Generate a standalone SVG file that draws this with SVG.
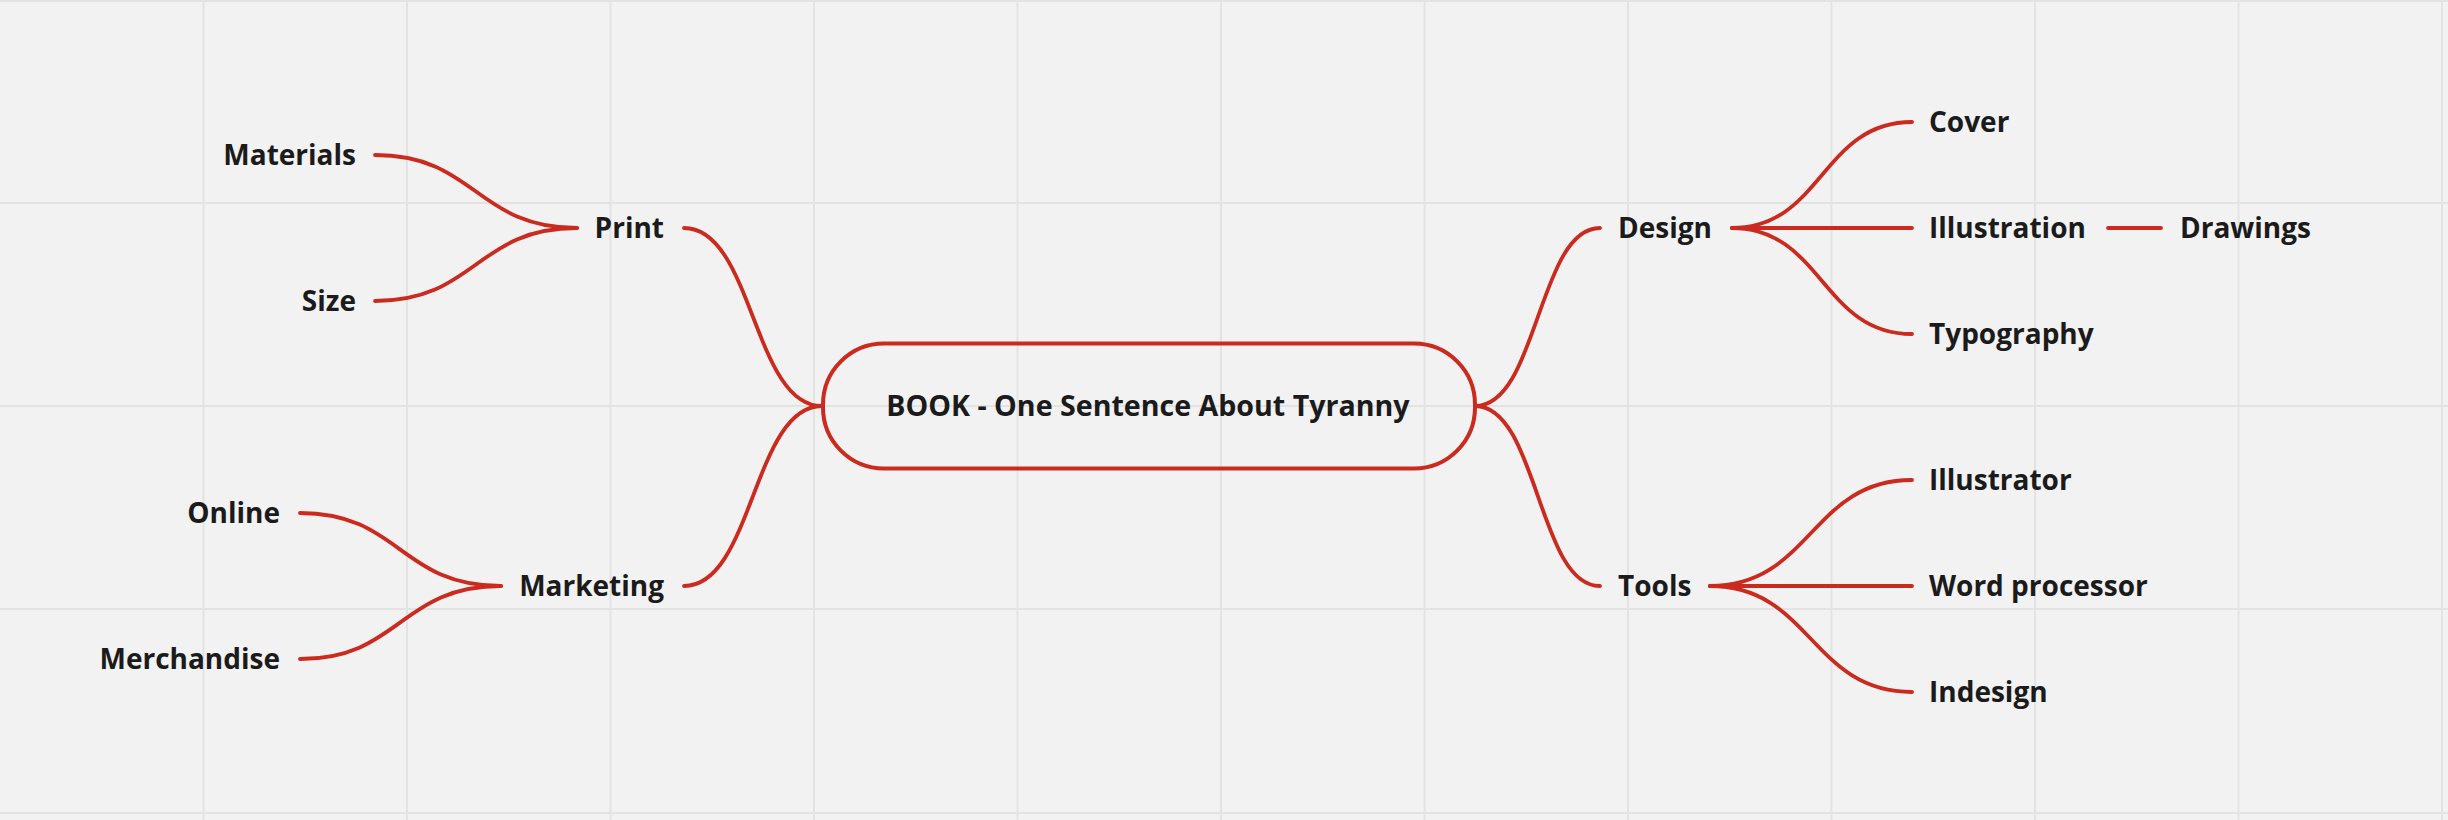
<svg xmlns="http://www.w3.org/2000/svg" width="2448" height="820" viewBox="0 0 2448 820">
<style>
.grid line{stroke:#e3e3e3;stroke-width:2}
.conn path{fill:none;stroke:#cb2a1f;stroke-width:3.8;stroke-linecap:round}
text{font-family:"Open Sans","Noto Sans","Liberation Sans",sans-serif;font-weight:700;font-size:28px;fill:#1b1b1b}
.l{text-anchor:end}
.c{text-anchor:middle;font-size:28.6px}
</style>
<rect x="0" y="0" width="2448" height="820" fill="#f2f2f2"/>
<g class="grid">
<line x1="203.5" y1="0" x2="203.5" y2="820"/>
<line x1="407" y1="0" x2="407" y2="820"/>
<line x1="610.5" y1="0" x2="610.5" y2="820"/>
<line x1="814" y1="0" x2="814" y2="820"/>
<line x1="1017.5" y1="0" x2="1017.5" y2="820"/>
<line x1="1221" y1="0" x2="1221" y2="820"/>
<line x1="1424.5" y1="0" x2="1424.5" y2="820"/>
<line x1="1628" y1="0" x2="1628" y2="820"/>
<line x1="1831.5" y1="0" x2="1831.5" y2="820"/>
<line x1="2035" y1="0" x2="2035" y2="820"/>
<line x1="2238.5" y1="0" x2="2238.5" y2="820"/>
<line x1="2442" y1="0" x2="2442" y2="820"/>
<line x1="0" y1="1" x2="2448" y2="1"/>
<line x1="0" y1="203" x2="2448" y2="203"/>
<line x1="0" y1="406" x2="2448" y2="406"/>
<line x1="0" y1="609" x2="2448" y2="609"/>
<line x1="0" y1="813" x2="2448" y2="813"/>
</g>
<g class="conn">
<path d="M822 406 C753 406 753 228 684 228"/>
<path d="M822 406 C753 406 753 586 684 586"/>
<path d="M1475 406 C1538 406 1538 228 1600 228"/>
<path d="M1475 406 C1538 406 1538 586 1600 586"/>
<path d="M577 228 C476 228 476 155 375 155"/>
<path d="M577 228 C476 228 476 301 375 301"/>
<path d="M501 586 C400 586 400 513 300 513"/>
<path d="M501 586 C400 586 400 659 300 659"/>
<path d="M1732 228 C1822 228 1822 122 1912 122"/>
<path d="M1732 228 L1912 228"/>
<path d="M1732 228 C1822 228 1822 334 1912 334"/>
<path d="M2108 228 L2161 228"/>
<path d="M1710 586 C1811 586 1811 480 1912 480"/>
<path d="M1710 586 L1912 586"/>
<path d="M1710 586 C1811 586 1811 692 1912 692"/>
</g>
<g id="root"><rect x="823" y="343.5" width="652" height="125" rx="61" fill="none" stroke="#cb2a1f" stroke-width="4"/><text class="c" x="1148" y="416">BOOK - One Sentence About Tyranny</text></g>
<g id="print"><text class="l" x="664" y="238">Print</text></g>
<g id="materials"><text class="l" x="356" y="165">Materials</text></g>
<g id="size"><text class="l" x="356" y="311">Size</text></g>
<g id="marketing"><text class="l" x="664" y="596">Marketing</text></g>
<g id="online"><text class="l" x="280" y="523">Online</text></g>
<g id="merchandise"><text class="l" x="280" y="669">Merchandise</text></g>
<g id="design"><text x="1618" y="238">Design</text></g>
<g id="cover"><text x="1929" y="132">Cover</text></g>
<g id="illustration"><text x="1929" y="238">Illustration</text></g>
<g id="drawings"><text x="2180" y="238">Drawings</text></g>
<g id="typography"><text x="1929" y="344">Typography</text></g>
<g id="tools"><text x="1618" y="596">Tools</text></g>
<g id="illustrator"><text x="1929" y="490">Illustrator</text></g>
<g id="wordprocessor"><text x="1929" y="596">Word processor</text></g>
<g id="indesign"><text x="1929" y="702">Indesign</text></g>
</svg>
